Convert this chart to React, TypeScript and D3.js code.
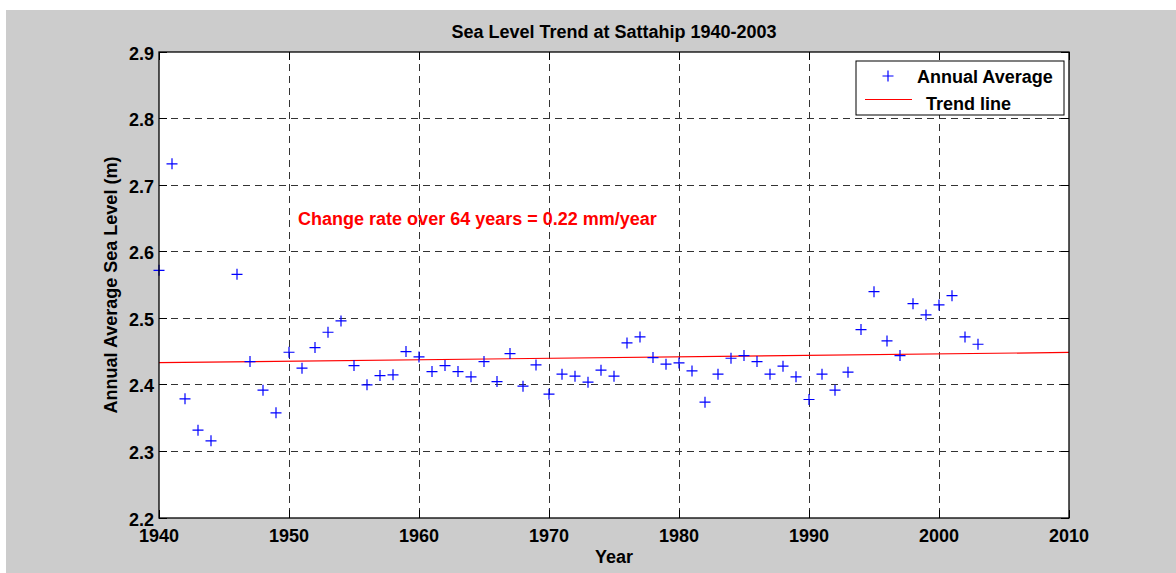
import { useEffect, useRef } from 'react';
import * as d3 from 'd3';

// annual averages (1945 has no value)
const years = [
  1940, 1941, 1942, 1943, 1944, 1946, 1947, 1948, 1949,
  1950, 1951, 1952, 1953, 1954, 1955, 1956, 1957, 1958, 1959,
  1960, 1961, 1962, 1963, 1964, 1965, 1966, 1967, 1968, 1969,
  1970, 1971, 1972, 1973, 1974, 1975, 1976, 1977, 1978, 1979,
  1980, 1981, 1982, 1983, 1984, 1985, 1986, 1987, 1988, 1989,
  1990, 1991, 1992, 1993, 1994, 1995, 1996, 1997, 1998, 1999,
  2000, 2001, 2002, 2003,
];
const levels = [
  2.572, 2.732, 2.379, 2.332, 2.316, 2.566, 2.435, 2.392, 2.358,
  2.449, 2.425, 2.456, 2.479, 2.496, 2.429, 2.400, 2.414, 2.415, 2.450,
  2.442, 2.420, 2.429, 2.420, 2.412, 2.435, 2.405, 2.447, 2.398, 2.430,
  2.386, 2.416, 2.413, 2.404, 2.422, 2.413, 2.463, 2.472, 2.441, 2.431,
  2.433, 2.421, 2.374, 2.416, 2.440, 2.444, 2.435, 2.416, 2.428, 2.412,
  2.378, 2.416, 2.392, 2.419, 2.483, 2.540, 2.466, 2.444, 2.522, 2.505,
  2.520, 2.534, 2.472, 2.461,
];

const trendYears = [1940, 2010];
const trendLevels = [2.4333, 2.4487];

const xTicks = [1940, 1950, 1960, 1970, 1980, 1990, 2000, 2010];
const yTicks = [2.2, 2.3, 2.4, 2.5, 2.6, 2.7, 2.8, 2.9];

const FONT = '"Liberation Sans", Arial, Helvetica, sans-serif';

const SeaLevelChart = () => {
  const ref = useRef<HTMLDivElement>(null);

  useEffect(() => {
    d3.select(ref.current).selectAll('*').remove();

    const width = 1176; const height = 573;
    const left = 159; const right = 1069; const top = 52; const bottom = 518;

    const x = d3.scaleLinear().domain([1940, 2010]).range([left, right]);
    const y = d3.scaleLinear().domain([2.2, 2.9]).range([bottom, top]);

    const svg = d3.select(ref.current)
      .append('svg')
      .attr('width', width)
      .attr('height', height)
      .style('position', 'absolute')
      .style('left', '0px')
      .style('top', '0px')
      .style('font-family', FONT);

    // figure background
    svg.append('rect')
      .attr('x', 6).attr('y', 10)
      .attr('width', width - 6).attr('height', height - 10)
      .attr('fill', '#cccccc');

    svg.append('rect')
      .attr('x', left).attr('y', top)
      .attr('width', right - left).attr('height', bottom - top)
      .attr('fill', '#ffffff');

    // dashed grid
    const grid = svg.append('g')
      .attr('stroke', '#333')
      .attr('stroke-width', 1)
      .attr('stroke-dasharray', '7,5')
      .attr('shape-rendering', 'crispEdges');

    grid.selectAll('.vgrid')
      .data(xTicks.slice(1, -1))
      .enter().append('line')
      .attr('x1', d => x(d)).attr('x2', d => x(d))
      .attr('y1', top).attr('y2', bottom);

    grid.selectAll('.hgrid')
      .data(yTicks.slice(1, -1))
      .enter().append('line')
      .attr('x1', left).attr('x2', right)
      .attr('y1', d => y(d)).attr('y2', d => y(d));

    // inward ticks on all four sides
    const ticks = svg.append('g').attr('stroke', '#000').attr('shape-rendering', 'crispEdges');
    xTicks.forEach(t => {
      ticks.append('line').attr('x1', x(t)).attr('x2', x(t)).attr('y1', bottom).attr('y2', bottom - 8);
      ticks.append('line').attr('x1', x(t)).attr('x2', x(t)).attr('y1', top).attr('y2', top + 8);
    });
    yTicks.forEach(t => {
      ticks.append('line').attr('x1', left).attr('x2', left + 8).attr('y1', y(t)).attr('y2', y(t));
      ticks.append('line').attr('x1', right).attr('x2', right - 8).attr('y1', y(t)).attr('y2', y(t));
    });

    // trend line
    const line = d3.line<number>()
      .x((d, i) => x(trendYears[i]))
      .y(d => y(d));
    svg.append('path')
      .attr('d', line(trendLevels))
      .attr('fill', 'none')
      .attr('stroke', '#ff0000')
      .attr('stroke-width', 1.2);

    // annual average markers
    const plus = (g: any, cx: number, cy: number, r: number) => {
      g.append('path')
        .attr('d', `M${cx - r},${cy}H${cx + r}M${cx},${cy - r}V${cy + r}`)
        .attr('stroke', '#0000ff')
        .attr('stroke-width', 1.2)
        .attr('fill', 'none');
    };
    const pts = svg.append('g');
    years.forEach((yr, i) => plus(pts, x(yr), y(levels[i]), 5.5));

    // axes box
    svg.append('rect')
      .attr('x', left).attr('y', top)
      .attr('width', right - left).attr('height', bottom - top)
      .attr('fill', 'none')
      .attr('stroke', '#000')
      .attr('stroke-width', 1.3);

    // tick labels
    svg.selectAll('.xlab')
      .data(xTicks)
      .enter().append('text')
      .attr('x', d => x(d))
      .attr('y', bottom + 23.5)
      .attr('text-anchor', 'middle')
      .attr('font-size', 18).attr('font-weight', 'bold')
      .text(d => String(d));

    svg.selectAll('.ylab')
      .data(yTicks)
      .enter().append('text')
      .attr('x', left - 5)
      .attr('y', d => y(d) + 7.5)
      .attr('text-anchor', 'end')
      .attr('font-size', 18).attr('font-weight', 'bold')
      .text(d => d.toFixed(1));

    // titles
    svg.append('text')
      .attr('x', (left + right) / 2).attr('y', 38)
      .attr('text-anchor', 'middle')
      .attr('font-size', 18).attr('font-weight', 'bold')
      .text('Sea Level Trend at Sattahip 1940-2003');

    svg.append('text')
      .attr('x', (left + right) / 2).attr('y', 563)
      .attr('text-anchor', 'middle')
      .attr('font-size', 18).attr('font-weight', 'bold')
      .text('Year');

    svg.append('text')
      .attr('transform', `translate(117, ${(top + bottom) / 2}) rotate(-90)`)
      .attr('text-anchor', 'middle')
      .attr('font-size', 18).attr('font-weight', 'bold')
      .text('Annual Average Sea Level (m)');

    // annotation
    svg.append('text')
      .attr('x', x(1950.7)).attr('y', y(2.65) + 6.5)
      .attr('fill', '#ff0000')
      .attr('font-size', 18).attr('font-weight', 'bold')
      .text('Change rate over 64 years = 0.22 mm/year');

    // legend
    const legend = svg.append('g');
    legend.append('rect')
      .attr('x', 856).attr('y', 61)
      .attr('width', 208).attr('height', 54)
      .attr('fill', '#fff')
      .attr('stroke', '#000')
      .attr('stroke-width', 1);
    plus(legend, 888, 76, 5.5);
    legend.append('text')
      .attr('x', 917).attr('y', 82.5)
      .attr('font-size', 18).attr('font-weight', 'bold')
      .text('Annual Average');
    legend.append('line')
      .attr('x1', 865).attr('x2', 912)
      .attr('y1', 99.5).attr('y2', 99.5)
      .attr('stroke', '#ff0000')
      .attr('stroke-width', 1.2);
    legend.append('text')
      .attr('x', 926).attr('y', 109.5)
      .attr('font-size', 18).attr('font-weight', 'bold')
      .text('Trend line');
  }, []);

  return <div ref={ref}></div>;
};

export default function App() {
  return <SeaLevelChart />;
}
